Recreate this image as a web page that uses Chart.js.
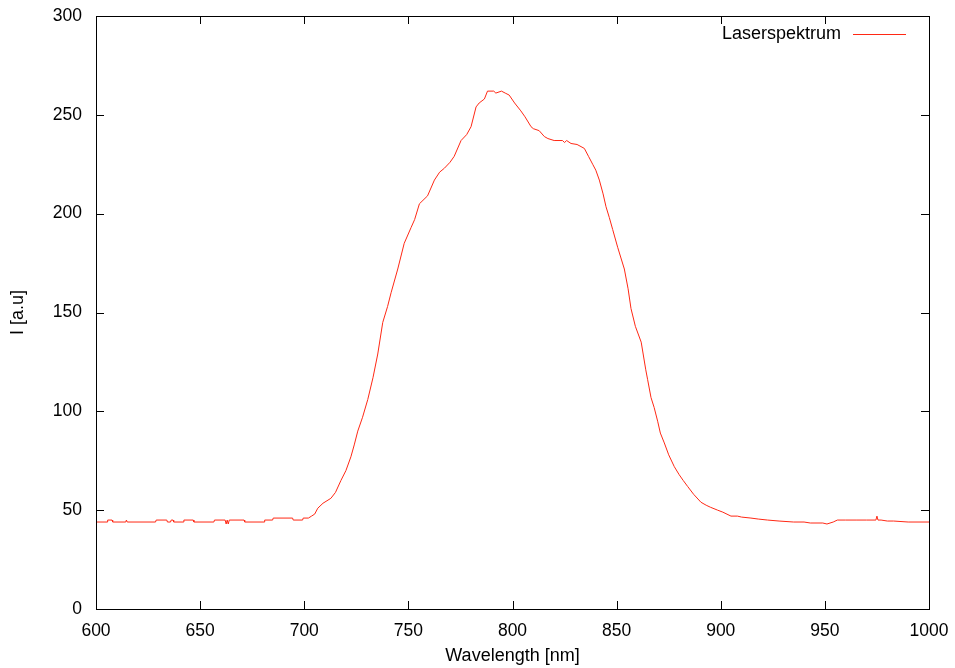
<!DOCTYPE html>
<html>
<head>
<meta charset="utf-8">
<script src="https://cdn.jsdelivr.net/npm/chart.js@4"></script>
<style>
  html, body { margin: 0; padding: 0; background: #fff; }
  #wrap { width: 955px; height: 668px; }
</style>
</head>
<body>
<div id="wrap"><canvas id="spec" width="955" height="668"></canvas></div>
<script>
const wavelength = [600, 605.3, 605.6, 607.7, 608, 614.3, 614.6, 615, 628.6, 628.9, 634, 634.3, 635.8, 636.1, 637, 637.3,
  641.9, 642.2, 646.7, 647, 656.6, 656.9, 662, 662.5, 663, 663.5, 664, 671.1, 671.4, 680.7, 681, 684.8, 685.1, 694.4,
  694.7, 699.2, 699.5, 702, 703.5, 705, 706.5, 709, 712.8, 715, 717.6, 720, 722.4, 724, 725.7, 728, 730.5, 733, 735.3,
  737.7, 740, 741.7, 744.9, 748, 751.3, 753, 755.3, 759.2, 762.5, 765, 767.3, 770, 772, 775.3, 778, 780.1, 782.5, 784,
  786.5, 788, 791, 792, 794.7, 796.5, 798.4, 801, 804, 806, 808.9, 810, 812.8, 815.3, 817, 820, 824, 825, 826, 828.1,
  831, 834.5, 836.5, 838.5, 840, 841.7, 843.5, 844.9, 846.5, 848.1, 850.5, 853.7, 855.5, 856.9, 859, 861.8, 864, 864.9,
  866.5, 868, 869.7, 871, 872.9, 875, 877.7, 880, 882, 884.1, 887, 890.5, 893, 895, 898.5, 901, 904.9, 908, 910, 914.5,
  918, 922.5, 928, 935, 940, 943, 949, 951, 954, 956, 960, 965, 970, 974.5, 975, 975.5, 977, 980, 983, 990, 1000];

const intensity = [44, 44, 45, 45, 44, 44, 45, 44, 44, 45, 45, 44, 44, 45, 45, 44,
  44, 45, 45, 44, 44, 45, 45, 43, 45, 43, 45, 45, 44, 44, 45, 45, 46, 46,
  45, 45, 46, 46, 47, 48, 51, 53.5, 56, 59, 65, 70, 77, 83, 90, 97, 106, 117, 129,
  145, 153, 160, 172, 185, 193, 197, 205, 209, 217, 221, 223, 226, 229, 237, 240, 244, 254, 256,
  258, 262, 262, 261, 262, 261, 260, 256, 252, 249, 244, 243, 242, 239, 238, 237, 237, 236, 237, 235.5,
  235, 233, 229, 225, 222, 217, 210, 203.5, 198, 192, 183, 172, 162, 152, 143, 135, 121, 116,
  107, 102, 95, 89, 84, 78, 72, 68, 65, 62, 58, 54, 52.5, 51.5, 50, 49, 47, 47, 46.5, 46,
  45.5, 45, 44.5, 44, 44, 43.5, 43.5, 43, 44, 45, 45, 45, 45, 45, 47, 45, 45, 44.5, 44.5, 44, 44];

const xTicks = [600, 650, 700, 750, 800, 850, 900, 950, 1000];
const yTicks = [0, 50, 100, 150, 200, 250, 300];

const lineColor = "rgb(255, 40, 20)";
const fontFam = "'Liberation Sans', Arial, Helvetica, sans-serif";

// gnuplot style frame: border box with inward ticks on all four sides
const framePlugin = {
  id: "frame",
  afterDraw(chart) {
    const ctx = chart.ctx;
    const a = chart.chartArea;
    const xs = chart.scales.x, ys = chart.scales.y;
    const tl = 8;
    ctx.save();
    ctx.strokeStyle = "#000";
    ctx.lineWidth = 1;
    ctx.strokeRect(Math.round(a.left) + 0.5, Math.round(a.top) + 0.5,
      Math.round(a.right - a.left), Math.round(a.bottom - a.top));
    ctx.beginPath();
    xTicks.forEach(v => {
      const px = Math.round(xs.getPixelForValue(v)) + 0.5;
      ctx.moveTo(px, a.bottom); ctx.lineTo(px, a.bottom - tl);
      ctx.moveTo(px, a.top); ctx.lineTo(px, a.top + tl);
    });
    yTicks.forEach(v => {
      const py = Math.round(ys.getPixelForValue(v)) + 0.5;
      ctx.moveTo(a.left, py); ctx.lineTo(a.left + tl, py);
      ctx.moveTo(a.right, py); ctx.lineTo(a.right - tl, py);
    });
    ctx.stroke();

    // key, top right: text then line sample
    const ds = chart.data.datasets[0];
    const ky = a.top + 18;
    ctx.font = "18px " + fontFam;
    ctx.fillStyle = "#000";
    ctx.textAlign = "right";
    ctx.textBaseline = "middle";
    ctx.fillText(ds.label, a.right - 88, ky);
    ctx.beginPath();
    ctx.strokeStyle = ds.borderColor;
    ctx.moveTo(a.right - 76, ky + 0.5);
    ctx.lineTo(a.right - 23, ky + 0.5);
    ctx.stroke();
    ctx.restore();
  }
};

const ctx = document.getElementById("spec").getContext("2d");
const chart = new Chart(ctx, {
  type: "line",
  data: {
    datasets: [{
      label: "Laserspektrum",
      data: wavelength.map((w, i) => ({ x: w, y: intensity[i] })),
      borderColor: lineColor,
      borderWidth: 1,
      pointRadius: 0,
      tension: 0,
      fill: false,
    }],
  },
  options: {
    responsive: false,
    animation: false,
    layout: { padding: { top: 16, right: 26, left: 0, bottom: 0 } },
    plugins: {
      legend: { display: false },
      tooltip: { enabled: false },
    },
    scales: {
      x: {
        type: "linear",
        min: 600,
        max: 1000,
        afterFit(scale) {
          scale.height = 59;
          scale.paddingLeft = 0;
          scale.paddingRight = 0;
        },
        afterBuildTicks(scale) { scale.ticks = xTicks.map(v => ({ value: v })); },
        grid: { display: false, drawTicks: false },
        border: { display: false },
        ticks: {
          color: "#000",
          font: { family: fontFam, size: 17.5 },
          padding: 12,
          maxRotation: 0,
          callback: v => String(v),
        },
        title: {
          display: true,
          text: "Wavelength [nm]",
          color: "#000",
          font: { family: fontFam, size: 18 },
          padding: { top: 0, bottom: 1 },
        },
      },
      y: {
        min: 0,
        max: 300,
        afterFit(scale) {
          scale.width = 96;
          scale.paddingTop = 0;
          scale.paddingBottom = 0;
        },
        afterBuildTicks(scale) { scale.ticks = yTicks.map(v => ({ value: v })); },
        grid: { display: false, drawTicks: false },
        border: { display: false },
        ticks: {
          color: "#000",
          font: { family: fontFam, size: 17.5 },
          padding: 14,
          callback: v => String(v),
        },
        title: {
          display: true,
          text: "I [a.u]",
          color: "#000",
          font: { family: fontFam, size: 18 },
          padding: { top: 7, bottom: 0 },
        },
      },
    },
  },
  plugins: [framePlugin],
});
</script>
</body>
</html>
